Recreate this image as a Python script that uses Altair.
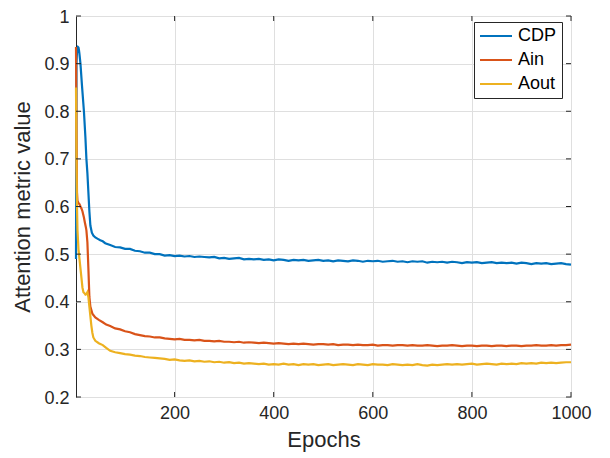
import altair as alt
import pandas as pd

series_names = ["CDP", "Ain", "Aout"]
series_colors = ["#0072BD", "#D95319", "#EDB120"]

x_ticks = [200, 400, 600, 800, 1000]
y_ticks = [0.2, 0.3, 0.4, 0.5, 0.6, 0.7, 0.8, 0.9, 1.0]

late_epochs = list(range(70, 1001, 10))

cdp_early_epochs = [1, 2, 3, 4, 5, 6, 7, 8, 10, 13, 17, 20, 22, 24, 26, 28, 30, 33, 36, 40, 45, 50, 55, 60]
cdp_early = [0.49, 0.90, 0.925, 0.932, 0.935, 0.934, 0.928, 0.92, 0.90, 0.855, 0.80, 0.745, 0.70, 0.67,
             0.63, 0.59, 0.56, 0.545, 0.539, 0.535, 0.532, 0.529, 0.527, 0.523]
cdp_late = [0.519, 0.515, 0.514, 0.511, 0.511, 0.507, 0.506, 0.503, 0.503, 0.500,
            0.500, 0.497, 0.498, 0.496, 0.497, 0.495, 0.496, 0.494, 0.495, 0.494,
            0.493, 0.494, 0.491, 0.492, 0.490, 0.491, 0.492, 0.489, 0.490, 0.489,
            0.490, 0.488, 0.489, 0.487, 0.489, 0.488, 0.486, 0.488, 0.487, 0.488,
            0.486, 0.487, 0.488, 0.486, 0.487, 0.485, 0.487, 0.486, 0.485, 0.487,
            0.486, 0.484, 0.486, 0.485, 0.486, 0.484, 0.485, 0.486, 0.484, 0.485,
            0.483, 0.485, 0.484, 0.485, 0.482, 0.484, 0.483, 0.484, 0.482, 0.484,
            0.483, 0.481, 0.483, 0.482, 0.483, 0.481, 0.482, 0.483, 0.481, 0.482,
            0.481, 0.482, 0.480, 0.482, 0.481, 0.479, 0.481, 0.480, 0.481, 0.479,
            0.480, 0.481, 0.479, 0.478]

ain_early_epochs = [1, 2, 3, 4, 6, 8, 10, 12, 14, 17, 19, 21, 22, 24, 26, 28, 30, 34, 40, 47, 55, 62]
ain_early = [0.935, 0.75, 0.63, 0.612, 0.607, 0.605, 0.60, 0.596, 0.59, 0.577, 0.566, 0.556, 0.55,
             0.525, 0.47, 0.41, 0.39, 0.375, 0.367, 0.362, 0.357, 0.352]
ain_late = [0.349, 0.344, 0.342, 0.338, 0.336, 0.332, 0.330, 0.328, 0.327, 0.325,
            0.325, 0.323, 0.322, 0.321, 0.322, 0.320, 0.320, 0.319, 0.320, 0.318,
            0.318, 0.317, 0.318, 0.316, 0.316, 0.315, 0.316, 0.314, 0.315, 0.314,
            0.313, 0.314, 0.313, 0.312, 0.313, 0.312, 0.311, 0.312, 0.311, 0.312,
            0.311, 0.310, 0.311, 0.311, 0.310, 0.311, 0.309, 0.310, 0.310, 0.309,
            0.310, 0.309, 0.309, 0.310, 0.308, 0.309, 0.309, 0.308, 0.309, 0.309,
            0.308, 0.309, 0.308, 0.308, 0.309, 0.308, 0.307, 0.308, 0.308, 0.309,
            0.308, 0.307, 0.308, 0.308, 0.307, 0.308, 0.308, 0.307, 0.308, 0.308,
            0.307, 0.308, 0.308, 0.307, 0.308, 0.308, 0.309, 0.308, 0.308, 0.309,
            0.308, 0.309, 0.309, 0.310]

aout_early_epochs = [1, 2, 3, 4, 6, 8, 10, 12, 14, 16, 18, 20, 22, 24, 26, 28, 30, 32, 34, 36, 40, 47, 55, 62]
aout_early = [0.85, 0.70, 0.60, 0.55, 0.51, 0.49, 0.47, 0.45, 0.43, 0.42, 0.418, 0.415, 0.416, 0.42,
              0.41, 0.39, 0.37, 0.35, 0.335, 0.325, 0.318, 0.313, 0.309, 0.303]
aout_late = [0.297, 0.294, 0.292, 0.290, 0.289, 0.287, 0.286, 0.284, 0.283, 0.282,
             0.281, 0.280, 0.278, 0.279, 0.277, 0.276, 0.277, 0.275, 0.276, 0.274,
             0.275, 0.273, 0.274, 0.272, 0.273, 0.271, 0.272, 0.270, 0.271, 0.270,
             0.269, 0.270, 0.268, 0.269, 0.268, 0.270, 0.268, 0.269, 0.267, 0.269,
             0.268, 0.269, 0.267, 0.268, 0.269, 0.267, 0.268, 0.269, 0.268, 0.267,
             0.269, 0.268, 0.267, 0.269, 0.268, 0.268, 0.267, 0.269, 0.268, 0.267,
             0.268, 0.267, 0.269, 0.267, 0.266, 0.268, 0.267, 0.268, 0.269, 0.268,
             0.269, 0.268, 0.269, 0.270, 0.268, 0.269, 0.270, 0.269, 0.268, 0.270,
             0.269, 0.270, 0.269, 0.271, 0.270, 0.271, 0.270, 0.272, 0.271, 0.272,
             0.271, 0.272, 0.273, 0.273]

rows = []
for name, ee, ev, lv in [("CDP", cdp_early_epochs, cdp_early, cdp_late),
                         ("Ain", ain_early_epochs, ain_early, ain_late),
                         ("Aout", aout_early_epochs, aout_early, aout_late)]:
    for e, v in zip(ee + late_epochs, ev + lv):
        rows.append({"series": name, "epoch": e, "value": v})
df = pd.DataFrame(rows)

W, H = 495, 381
FONT = "Liberation Sans"
TXT = "#262626"

x_enc = alt.X("epoch:Q", scale=alt.Scale(domain=[1, 1000], nice=False, zero=False),
              axis=alt.Axis(values=x_ticks, title="Epochs", format="d", grid=True, labelFlush=False))
y_enc = alt.Y("value:Q", scale=alt.Scale(domain=[0.2, 1.0], nice=False, zero=False),
              axis=alt.Axis(values=y_ticks, title="Attention metric value", format="~g", grid=True,
                            labelFlush=False, labelOffset=1))

color_enc = alt.Color("series:N", scale=alt.Scale(domain=series_names, range=series_colors),
                      legend=alt.Legend(title=None, orient="none", legendX=398, legendY=6))

layers = []
for name in series_names:
    layers.append(
        alt.Chart(df).transform_filter(alt.datum.series == name)
        .mark_line(strokeWidth=2.2)
        .encode(x=x_enc, y=y_enc, color=color_enc)
    )

xt_df = pd.DataFrame({"epoch": x_ticks})
yt_df = pd.DataFrame({"value": y_ticks})
tick_color = TXT
layers.append(alt.Chart(yt_df).mark_rule(color=tick_color, strokeWidth=1)
              .encode(y=y_enc, x=alt.value(0), x2=alt.value(5)))
layers.append(alt.Chart(yt_df).mark_rule(color=tick_color, strokeWidth=1)
              .encode(y=y_enc, x=alt.value(W - 5), x2=alt.value(W)))
layers.append(alt.Chart(xt_df).mark_rule(color=tick_color, strokeWidth=1)
              .encode(x=x_enc, y=alt.value(H), y2=alt.value(H - 5)))
layers.append(alt.Chart(xt_df).mark_rule(color=tick_color, strokeWidth=1)
              .encode(x=x_enc, y=alt.value(0), y2=alt.value(5)))

chart = alt.layer(*layers).properties(
    width=W, height=H,
    autosize=alt.AutoSizeParams(type="none"),
    padding={"left": 68, "top": 8, "right": 30, "bottom": 60},
).configure_view(
    stroke=TXT, strokeWidth=1
).configure_axis(
    labelFont=FONT, titleFont=FONT, labelFontSize=18, titleFontSize=22,
    labelColor=TXT, titleColor=TXT, titleFontWeight="normal",
    tickSize=0, domain=False, gridColor="#DFDFDF", gridWidth=1,
    labelPadding=7,
).configure_axisX(
    titlePadding=7
).configure_axisY(
    titlePadding=9
).configure_legend(
    strokeColor=TXT, fillColor="white", padding=5,
    symbolType="M-1,0H3", symbolSize=256, symbolStrokeWidth=2,
    labelFontSize=18, labelFont=FONT, labelColor="black",
    rowPadding=6, labelOffset=21,
)

chart.save("out.html", embed_options={"renderer": "svg", "actions": False})
